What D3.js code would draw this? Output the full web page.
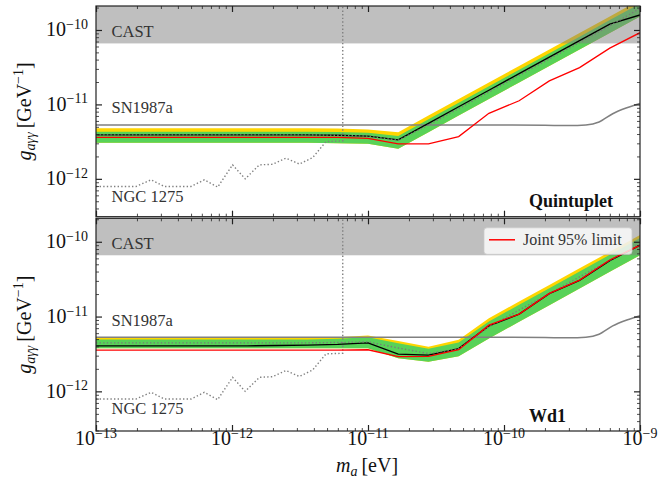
<!DOCTYPE html>
<html><head><meta charset="utf-8">
<script src="https://cdn.jsdelivr.net/npm/d3@7"></script>
<style>
body{margin:0;background:#fff}
svg text{font-family:"Liberation Serif","DejaVu Serif",serif}
</style>
</head><body><svg id="c" width="660" height="486"></svg>
<script>
// ---------- data ----------
const massGrid = [1.000e-13,1.668e-13,2.783e-13,4.642e-13,7.743e-13,1.292e-12,2.154e-12,3.594e-12,5.995e-12,
  1.000e-11,1.668e-11,2.783e-11,4.642e-11,7.743e-11,1.292e-10,2.154e-10,3.594e-10,5.995e-10,1.000e-9];

// Quintuplet
const quiYellowTop = [4.8e-12,4.8e-12,4.8e-12,4.8e-12,4.8e-12,4.8e-12,4.8e-12,4.8e-12,4.75e-12,4.6e-12,4.24e-12,7.07e-12,11.8e-12,19.7e-12,32.8e-12,54.8e-12,91.3e-12,152e-12,254e-12];
const quiGreenTop  = [4.3e-12,4.3e-12,4.3e-12,4.3e-12,4.3e-12,4.3e-12,4.3e-12,4.3e-12,4.25e-12,4.15e-12,3.77e-12,6.3e-12,10.5e-12,17.5e-12,29.2e-12,48.7e-12,81.2e-12,136e-12,226e-12];
const quiMedian    = [3.9e-12,3.9e-12,3.9e-12,3.9e-12,3.9e-12,3.9e-12,3.9e-12,3.9e-12,3.85e-12,3.75e-12,3.3e-12,5.3e-12,8.8e-12,14.7e-12,24.5e-12,41e-12,68e-12,114e-12,195e-12];
const quiGreenBot  = [3.05e-12,3.05e-12,3.05e-12,3.05e-12,3.05e-12,3.05e-12,3.05e-12,3.05e-12,3.0e-12,2.95e-12,2.54e-12,4.23e-12,7.07e-12,11.8e-12,19.7e-12,32.8e-12,54.6e-12,91.2e-12,152e-12];
const quiObserved  = [3.9e-12,3.9e-12,3.9e-12,3.9e-12,3.9e-12,3.9e-12,3.9e-12,3.9e-12,3.85e-12,3.75e-12,3.34e-12,5.57e-12,9.3e-12,15.5e-12,25.9e-12,43.1e-12,71.9e-12,120e-12,159e-12];
const quiJoint     = [3.6e-12,3.6e-12,3.6e-12,3.6e-12,3.6e-12,3.6e-12,3.6e-12,3.6e-12,3.6e-12,3.5e-12,2.95e-12,2.95e-12,3.7e-12,7.6e-12,11.2e-12,20.7e-12,31.2e-12,57e-12,92e-12];

// Wd1
const wdYellowTop = [5.19e-12,5.19e-12,5.19e-12,5.19e-12,5.19e-12,5.19e-12,5.19e-12,5.2e-12,5.3e-12,5.6e-12,4.7e-12,3.94e-12,4.9e-12,9.5e-12,15.9e-12,26.4e-12,44.1e-12,73.5e-12,123e-12];
const wdGreenTop  = [4.93e-12,4.93e-12,4.93e-12,4.93e-12,4.93e-12,4.93e-12,4.93e-12,4.95e-12,5.05e-12,5.3e-12,4.4e-12,3.7e-12,4.5e-12,8.6e-12,14.4e-12,24e-12,40e-12,67e-12,112e-12];
const wdMedian    = [4.45e-12,4.45e-12,4.45e-12,4.45e-12,4.45e-12,4.45e-12,4.45e-12,4.45e-12,4.5e-12,4.59e-12,3.8e-12,3.2e-12,3.7e-12,7.3e-12,12.2e-12,20.3e-12,33.9e-12,56.5e-12,94e-12];
const wdGreenBot  = [3.78e-12,3.78e-12,3.78e-12,3.78e-12,3.78e-12,3.78e-12,3.78e-12,3.78e-12,3.78e-12,3.78e-12,2.76e-12,2.49e-12,2.95e-12,5.1e-12,8.5e-12,14.2e-12,23.7e-12,39.6e-12,66e-12];
const wdObserved  = [4.06e-12,4.06e-12,4.06e-12,4.06e-12,4.06e-12,4.06e-12,4.1e-12,4.15e-12,4.25e-12,4.45e-12,3.15e-12,3.05e-12,3.73e-12,7.5e-12,10.8e-12,20.2e-12,30.5e-12,56e-12,90e-12];
const wdJoint     = [3.55e-12,3.55e-12,3.55e-12,3.55e-12,3.55e-12,3.55e-12,3.55e-12,3.55e-12,3.55e-12,3.6e-12,2.91e-12,2.94e-12,3.6e-12,7.67e-12,10.8e-12,20.4e-12,30.7e-12,57e-12,90e-12];

// Other bounds
const castLimit = 6.6e-11;
const snMass = [1e-13,1e-10,2e-10,3e-10,4e-10,5e-10,6.3e-10,8e-10,1e-9];
const snG    = [5.3e-12,5.3e-12,5.25e-12,5.2e-12,5.3e-12,5.8e-12,7.5e-12,9.0e-12,1.03e-11];
const ngcMass = [1e-13,1.97e-13,2.54e-13,3.18e-13,5.0e-13,6.26e-13,7.85e-13,1.01e-12,1.25e-12,1.59e-12,1.99e-12,2.49e-12,3.13e-12,3.92e-12,4.91e-12,6.52e-12,6.52e-12];
const ngcG    = [7.9e-13,7.9e-13,9.7e-13,7.9e-13,7.9e-13,9.7e-13,7.75e-13,1.54e-12,1.0e-12,1.54e-12,1.57e-12,1.9e-12,1.58e-12,1.93e-12,3.17e-12,3.23e-12,1e-8];

const xTickExps = [-13,-12,-11,-10,-9];
const yTickExps = [-12,-11,-10];
const panelNames = ["Quintuplet","Wd1"];
const legendLabel = "Joint 95% limit";

// ---------- layout ----------
const svg = d3.select("#c");
const L = 96, R = 640;
const x = d3.scaleLog().domain([1e-13,1e-9]).range([L,R]);

const panels = [
  {name:panelNames[0], top:6, bottom:216.7, dom:[3.1e-13,2.1e-10],
   yt:quiYellowTop, gt:quiGreenTop, med:quiMedian, gb:quiGreenBot, obs:quiObserved, joint:quiJoint, legend:false},
  {name:panelNames[1], top:218.3, bottom:431, dom:[2.95e-13,2.06e-10],
   yt:wdYellowTop, gt:wdGreenTop, med:wdMedian, gb:wdGreenBot, obs:wdObserved, joint:wdJoint, legend:true}
];

const xMinor = [];
[1e-13,1e-12,1e-11,1e-10].forEach(d=>{for(let k=2;k<10;k++) xMinor.push(d*k);});
const yMinorAll = [];
[1e-13,1e-12,1e-11,1e-10].forEach(d=>{for(let k=2;k<10;k++) yMinorAll.push(d*k);});

function sup(sel, base, exp, fs, sfs, dy){
  sel.append("tspan").attr("font-size",fs).text(base);
  sel.append("tspan").attr("font-size",sfs).attr("dy",dy).text("\u2212"+Math.abs(exp));
}

panels.forEach((p,pi)=>{
  const y = d3.scaleLog().domain(p.dom).range([p.bottom,p.top]);
  const id = "clip"+pi;
  svg.append("clipPath").attr("id",id).append("rect")
    .attr("x",L).attr("y",p.top).attr("width",R-L).attr("height",p.bottom-p.top);
  const g = svg.append("g").attr("clip-path",`url(#${id})`);
  const idx = d3.range(massGrid.length);

  // bands
  g.append("path").datum(idx)
    .attr("d", d3.area().x(i=>x(massGrid[i])).y0(i=>y(p.gb[i])).y1(i=>y(p.yt[i])))
    .attr("fill","#ffd500");
  g.append("path").datum(idx)
    .attr("d", d3.area().x(i=>x(massGrid[i])).y0(i=>y(p.gb[i])).y1(i=>y(p.gt[i])))
    .attr("fill","#58d258");

  // CAST
  g.append("rect").attr("x",L).attr("width",R-L)
    .attr("y",p.top).attr("height",y(castLimit)-p.top)
    .attr("fill","#7f7f7f").attr("fill-opacity",0.5);

  // SN1987a
  g.append("path").datum(d3.range(snMass.length))
    .attr("d", d3.line().x(i=>x(snMass[i])).y(i=>y(snG[i])).curve(d3.curveMonotoneX))
    .attr("fill","none").attr("stroke","#808080").attr("stroke-width",1.5);

  // NGC 1275
  g.append("path").datum(d3.range(ngcMass.length))
    .attr("d", d3.line().x(i=>x(ngcMass[i])).y(i=>y(ngcG[i])))
    .attr("fill","none").attr("stroke","#808080").attr("stroke-width",1.4)
    .attr("stroke-dasharray","1.4,2.2");

  const line = arr => d3.line().x(i=>x(massGrid[i])).y(i=>y(arr[i]));
  // observed (black)
  g.append("path").datum(idx).attr("d", line(p.obs)(idx))
    .attr("fill","none").attr("stroke","#000").attr("stroke-width",1.4);
  // expected median (gray dotted)
  g.append("path").datum(idx).attr("d", line(p.med)(idx))
    .attr("fill","none").attr("stroke","#7a7a7a").attr("stroke-width",1.4)
    .attr("stroke-dasharray","1.4,2.2");
  // joint (red)
  g.append("path").datum(idx).attr("d", line(p.joint)(idx))
    .attr("fill","none").attr("stroke","#ff0000").attr("stroke-width",1.3);

  // frame
  svg.append("rect").attr("x",L).attr("y",p.top).attr("width",R-L).attr("height",p.bottom-p.top)
    .attr("fill","none").attr("stroke","#222").attr("stroke-width",1.2);

  const yMinor = yMinorAll.filter(v=>v>=p.dom[0]&&v<=p.dom[1]);
  const yMajor = yTickExps.map(e=>Math.pow(10,e));
  const xMajor = xTickExps.map(e=>Math.pow(10,e));
  function axisGroup(gen, tr, vals, size, sw){
    const a = svg.append("g").attr("transform",tr)
      .call(gen.tickValues(vals).tickSize(-size).tickFormat(""));
    a.select(".domain").remove();
    a.selectAll("line").attr("stroke","#222").attr("stroke-width",sw);
  }
  axisGroup(d3.axisLeft(y), `translate(${L},0)`, yMajor, 6, 1.2);
  axisGroup(d3.axisLeft(y), `translate(${L},0)`, yMinor, 3, 0.8);
  axisGroup(d3.axisRight(y), `translate(${R},0)`, yMajor, 6, 1.2);
  axisGroup(d3.axisRight(y), `translate(${R},0)`, yMinor, 3, 0.8);
  axisGroup(d3.axisBottom(x), `translate(0,${p.bottom})`, xMajor, 6, 1.2);
  axisGroup(d3.axisBottom(x), `translate(0,${p.bottom})`, xMinor, 3, 0.8);
  axisGroup(d3.axisTop(x), `translate(0,${p.top})`, xMajor, 6, 1.2);
  axisGroup(d3.axisTop(x), `translate(0,${p.top})`, xMinor, 3, 0.8);

  // y tick labels
  yTickExps.forEach(e=>{
    const t = svg.append("text").attr("x",88).attr("y",y(Math.pow(10,e))+6.5)
      .attr("text-anchor","end").attr("fill","#111");
    sup(t,"10",e,20,14,-7.5);
  });

  // y label
  const yl = svg.append("text").attr("transform",`translate(31,${(p.top+p.bottom)/2}) rotate(-90)`)
    .attr("text-anchor","middle").attr("font-size",20).attr("fill","#111");
  yl.append("tspan").attr("font-style","italic").text("g");
  yl.append("tspan").attr("font-style","italic").attr("font-size",14).attr("dy",4).text("a\u03b3\u03b3");
  yl.append("tspan").attr("dy",-4).text("\u2009[GeV");
  yl.append("tspan").attr("font-size",14).attr("dy",-8).text("\u22121");
  yl.append("tspan").attr("dy",8).text("]");

  // annotation labels
  const lab = (txt, yy) => svg.append("text").attr("x",111.5).attr("y",yy)
    .attr("font-size",16.5).attr("fill","#333").text(txt);
  lab("CAST", y(castLimit) - 6.2);
  lab("SN1987a", y(5.3e-12) - 11.5);
  lab("NGC 1275", y(7.9e-13) + 15.2);

  svg.append("text").attr("x",529).attr("y",p.bottom-9.5)
    .attr("font-size",18).attr("font-weight","bold").attr("fill","#111").text(p.name);

  if(p.legend){
    const lg = svg.append("g");
    lg.append("rect").attr("x",484).attr("y",p.top+9.5).attr("width",148).attr("height",26.5)
      .attr("rx",3).attr("fill","#fff").attr("fill-opacity",0.8)
      .attr("stroke","#ccc").attr("stroke-opacity",0.8);
    lg.append("line").attr("x1",489).attr("x2",515).attr("y1",p.top+21.5).attr("y2",p.top+21.5)
      .attr("stroke","#ff0000").attr("stroke-width",1.5);
    lg.append("text").attr("x",523).attr("y",p.top+27).attr("font-size",16).attr("fill","#333").text(legendLabel);
  }

  if(pi===1){
    xTickExps.forEach(e=>{
      const t = svg.append("text").attr("x",x(Math.pow(10,e))).attr("y",445)
        .attr("text-anchor","middle").attr("fill","#111");
      sup(t,"10",e,20,14,-7.5);
    });
    const xl = svg.append("text").attr("x",367).attr("y",472).attr("text-anchor","middle")
      .attr("font-size",20).attr("fill","#111");
    xl.append("tspan").attr("font-style","italic").text("m");
    xl.append("tspan").attr("font-style","italic").attr("font-size",14).attr("dy",4).text("a");
    xl.append("tspan").attr("dy",-4).text("\u2009[eV]");
  }
});
</script>
</body></html>
